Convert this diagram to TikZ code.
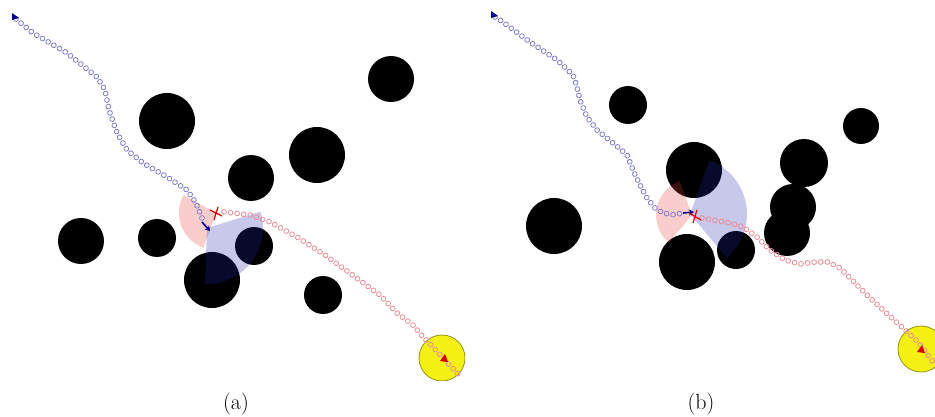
\documentclass[tikz,border=0pt]{standalone}
\usepackage{fontspec}
\usetikzlibrary{decorations.markings,arrows.meta}
\definecolor{trailblue}{RGB}{125,125,205}
\definecolor{trailred}{RGB}{232,140,150}
\definecolor{fovblue}{RGB}{36,36,176}
\definecolor{fovred}{RGB}{236,56,56}
\definecolor{goalyellow}{RGB}{245,240,20}
\definecolor{goalrim}{RGB}{150,150,20}
\tikzset{
  obstacle/.style={fill=black},
  goal/.style={fill=goalyellow, draw=goalrim, line width=0.8pt},
  trail/.style={postaction={decorate}, decoration={markings,
    mark=between positions 0 and 1 step 6.6pt with {\draw[#1, line width=0.8pt] (0,0) circle (2.4pt);}}},
  fov/.style={fill=#1, fill opacity=0.25},
  robot/.style={draw=blue!55!black, line width=1.6pt, -{Stealth[length=5pt,width=6pt]}},
  target/.style={draw=red!85!black, line width=1.2pt},
  caption/.style={font=\fontsize{22}{26}\selectfont},
}
\begin{document}
\begin{tikzpicture}[x=1pt, y=-1pt, >=stealth]
  \useasboundingbox (0,0) rectangle (935,417);
  % panel (a)
  \begin{scope}
    \clip (0,0) rectangle (465,380);
    \foreach \cx/\cy/\r in {167/121/28, 391/79/23, 317/155/28, 251/178/23, 81/241/23,
      157/238/19, 254/246/19, 212/280/28, 323/295/19}
      \fill[obstacle] (\cx,\cy) circle (\r);
    \draw[goal] (442,358) circle (23);
    \fill[fov=fovred] (216,213) -- ++(110:37) arc[start angle=110, end angle=209, radius=37] -- cycle;
    \fill[fov=fovblue] (207,228) -- ++(-17:56) arc[start angle=-17, end angle=92, radius=56] -- cycle;
    \path[trail=trailblue] plot coordinates {(16,19) (33,33) (67,53) (97,77) (105,90) (109,110)
      (117,133) (127,150) (143,163) (167,177) (187,190) (196,203) (202,218)};
    \path[trail=trailred] plot coordinates {(224,212) (250,215) (270,222) (297,237) (325,255)
      (355,277) (380,295) (397,313) (413,325) (423,337) (433,347) (445,360) (458,374)};
    \fill[blue!60!black] (12,13) -- (19,18) -- (12,20) -- cycle;
    \draw[robot] (202,222) -- (210,231);
    \draw[target] (210,210) -- (222,216) (218,207) -- (214,220);
    \fill[red!85!black] (448,362) -- (440,361) -- (445,354) -- cycle;
  \end{scope}
  % panel (b)
  \begin{scope}
    \clip (480,0) rectangle (935,380);
    \foreach \cx/\cy/\r in {628/105/19, 861/126/18, 554/226/28, 804/163/24, 793/207/23,
      787/233/23, 694/170/28, 687/262/28, 736/250/19}
      \fill[obstacle] (\cx,\cy) circle (\r);
    \draw[goal] (921,349) circle (23);
    \fill[fov=fovred] (692,215) -- ++(130:36) arc[start angle=130, end angle=250, radius=36] -- cycle;
    \fill[fov=fovblue] (690,214) -- ++(-70:57) arc[start angle=-70, end angle=50, radius=57] -- cycle;
    \path[trail=trailblue] plot coordinates {(495,17) (500,20) (530,42) (557,60) (573,75) (577,87)
      (580,100) (587,117) (597,130) (613,143) (627,155) (633,170) (640,185) (647,198) (655,208)
      (663,213) (675,215) (682,213)};
    \path[trail=trailred] plot coordinates {(702,218) (713,220) (730,223) (743,227) (757,237)
      (770,250) (785,260) (800,264) (815,262) (828,262) (840,268) (852,280) (866,294) (883,310)
      (903,328) (918,342) (933,362)};
    \fill[blue!60!black] (491,11) -- (498,16) -- (491,18) -- cycle;
    \draw[robot] (683,213) -- (694,212);
    \draw[target] (689,213) -- (701,220) (697,210) -- (693,223);
    \fill[red!85!black] (925,353) -- (917,352) -- (922,345) -- cycle;
  \end{scope}
  \node[caption] (capa) at (236,404) {(a)};
  \node[caption] (capb) at (701,404) {(b)};
\end{tikzpicture}
\end{document}
